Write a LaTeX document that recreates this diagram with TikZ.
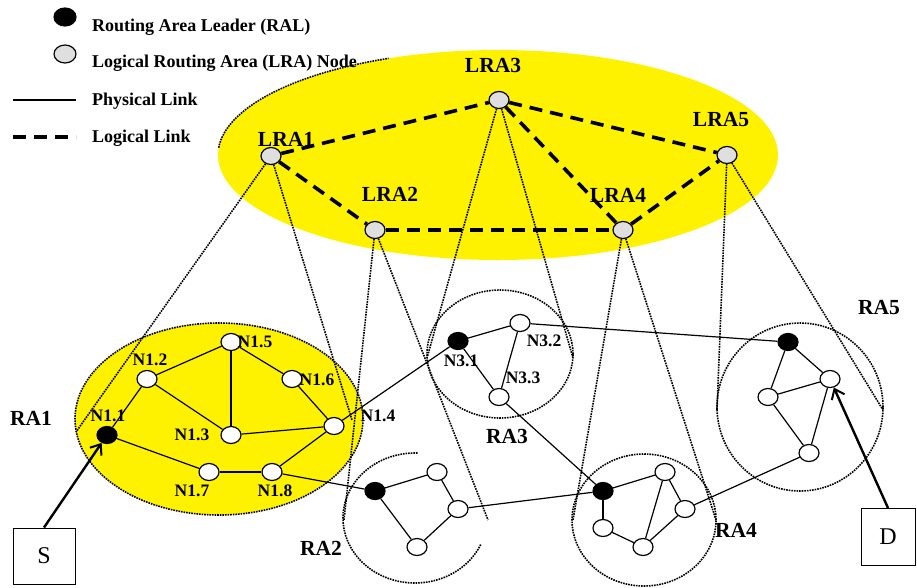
\documentclass[tikz,border=0pt]{standalone}
\usepackage{fontspec}
\setmainfont{Liberation Serif}
\usetikzlibrary{arrows.meta,shapes.geometric}

\tikzset{
  ranode/.style={draw, ellipse, fill=white, line width=1.2pt, minimum width=20pt, minimum height=17pt, inner sep=0pt},
  ralnode/.style={ranode, fill=black},
  lranode/.style={ranode, fill=gray!25},
  physlink/.style={line width=1.2pt},
  loglink/.style={line width=3.6pt, dash pattern=on 13pt off 8pt},
  projline/.style={line width=1.6pt, dash pattern=on 1.6pt off 1pt},
  nlabel/.style={font=\bfseries\fontsize{17.5}{18}\selectfont, inner sep=0pt},
  biglabel/.style={font=\bfseries\fontsize{21.5}{22}\selectfont, inner sep=0pt},
  keytext/.style={font=\bfseries\fontsize{18}{19}\selectfont, inner sep=0pt, anchor=base west},
  endbox/.style={draw, line width=1pt, inner sep=0pt, font=\fontsize{24}{24}\selectfont},
  srcarrow/.style={line width=2.4pt, -{Straight Barb[length=9pt,width=14pt,line width=2pt]}}
}

\begin{document}
\begin{tikzpicture}[x=1pt,y=-1pt]
    \useasboundingbox (0,0) rectangle (917,587);

    % Logical level (yellow area)
    \fill[yellow] (498,155) ellipse [x radius=280pt, y radius=105pt];
    \draw[projline] (498,155) ++(176:280pt and 105pt) arc[start angle=176, end angle=113, x radius=280pt, y radius=105pt];

    % Routing areas
    \draw[projline, fill=yellow] (219,419) ellipse [x radius=144pt, y radius=96pt];
    \draw[projline] (500,354) ellipse [x radius=73pt, y radius=64pt];
    \draw[projline] (415,518) ++(88:72pt and 65pt) arc[start angle=88, end angle=336, x radius=72pt, y radius=65pt];
    \draw[projline] (644,520) ellipse [x radius=72pt, y radius=66pt];
    \draw[projline] (800,407) ellipse [x radius=83pt, y radius=84pt];

    % Legend
    \node[ralnode, minimum width=22pt, minimum height=18pt] (keyral) at (65,17) {};
    \node[lranode, minimum width=22pt, minimum height=18pt] (keylra) at (65,54) {};
    \coordinate (keyp1) at (13,100); \coordinate (keyp2) at (76,100);
    \coordinate (keyl1) at (13,137); \coordinate (keyl2) at (76,137);
    \draw[physlink] (keyp1) -- (keyp2);
    \draw[loglink] (keyl1) -- (keyl2);
    \node[keytext] (keyraltxt) at (92,31) {Routing Area Leader (RAL)};
    \node[keytext] (keylratxt) at (92,67) {Logical Routing Area (LRA) Node};
    \node[keytext] (keyphytxt) at (92,105) {Physical Link};
    \node[keytext] (keylogtxt) at (92,142) {Logical Link};

    % LRA nodes
    \foreach \n/\x/\y/\tx/\ty in {1/271/156/286/139, 2/375/230/390/194, 3/499/100/493/65,
                                  4/623/230/618/195, 5/727/155/721/120} {
        \node[lranode] (lra\n) at (\x,\y) {};
        \node[biglabel] (lra\n txt) at (\tx,\ty) {LRA\n};
    }

    % RA1 nodes
    \node[ralnode] (n11) at (107,435) {};
    \foreach \n/\x/\y in {2/147/379, 3/231/435, 4/334/426, 5/231/342, 6/292/379, 7/209/472, 8/272/472}
        \node[ranode] (n1\n) at (\x,\y) {};
    \foreach \n/\x/\y in {1/108/416, 2/150/360, 3/192/435, 4/378/416, 5/255/342, 6/317/380, 7/192/491, 8/275/491}
        \node[nlabel] (n1\n txt) at (\x,\y) {N1.\n};

    % RA3 nodes
    \node[ralnode] (n31) at (458,341) {};
    \node[ranode] (n32) at (520,323) {};
    \node[ranode] (n33) at (499,397) {};
    \foreach \n/\x/\y in {1/461/361, 2/544/341, 3/523/378}
        \node[nlabel] (n3\n txt) at (\x,\y) {N3.\n};

    % RA2, RA4, RA5 nodes
    \node[ralnode] (ra2a) at (375,491) {};
    \node[ranode] (ra2b) at (437,472) {};
    \node[ranode] (ra2c) at (458,509) {};
    \node[ranode] (ra2d) at (417,547) {};
    \node[ralnode] (ra4a) at (603,491) {};
    \node[ranode] (ra4b) at (665,472) {};
    \node[ranode] (ra4c) at (685,509) {};
    \node[ranode] (ra4d) at (603,528) {};
    \node[ranode] (ra4e) at (643,547) {};
    \node[ralnode] (ra5a) at (788,342) {};
    \node[ranode] (ra5b) at (830,379) {};
    \node[ranode] (ra5c) at (768,397) {};
    \node[ranode] (ra5d) at (809,453) {};

    % Area labels
    \foreach \n/\x/\y in {1/31/418, 2/321/548, 3/507/436, 4/736/530, 5/879/307}
        \node[biglabel] (ra\n txt) at (\x,\y) {RA\n};

    % Projection of each LRA onto its area
    \coordinate (ra1l) at (76,432);  \coordinate (ra1r) at (352,420);
    \coordinate (ra2l) at (344,520); \coordinate (ra2r) at (488,520);
    \coordinate (ra3l) at (427,358); \coordinate (ra3r) at (573,358);
    \coordinate (ra4l) at (573,520); \coordinate (ra4r) at (716,520);
    \coordinate (ra5l) at (717,410); \coordinate (ra5r) at (883,410);
    \foreach \n in {1,...,5} {
        \draw[projline] (lra\n) -- (ra\n l);
        \draw[projline] (lra\n) -- (ra\n r);
    }

    % Physical links
    \foreach \a/\b in {n11/n12, n11/n17, n12/n15, n12/n13, n15/n13, n15/n16, n16/n14, n13/n14,
                       n17/n18, n18/n14, n14/n31, n18/ra2a,
                       n31/n32, n31/n33, n32/n33, n32/ra5a, n33/ra4a,
                       ra2a/ra2b, ra2b/ra2c, ra2a/ra2d, ra2d/ra2c, ra2c/ra4a,
                       ra4a/ra4b, ra4b/ra4c, ra4a/ra4d, ra4d/ra4e, ra4e/ra4b, ra4e/ra4c, ra4c/ra5d,
                       ra5a/ra5c, ra5a/ra5b, ra5c/ra5b, ra5c/ra5d, ra5b/ra5d}
        \draw[physlink] (\a) -- (\b);

    % Logical links
    \foreach \a/\b in {1/3, 1/2, 2/4, 3/4, 3/5, 4/5}
        \draw[loglink] (lra\a) -- (lra\b);

    % Source and destination
    \node[endbox, minimum width=62pt, minimum height=56pt] (src) at (44,556) {S};
    \node[endbox, minimum width=54pt, minimum height=57pt] (dst) at (888,537) {D};
    \draw[srcarrow] (src.north) -- (n11);
    \draw[srcarrow] (dst.north) -- (ra5b);
\end{tikzpicture}
\end{document}
